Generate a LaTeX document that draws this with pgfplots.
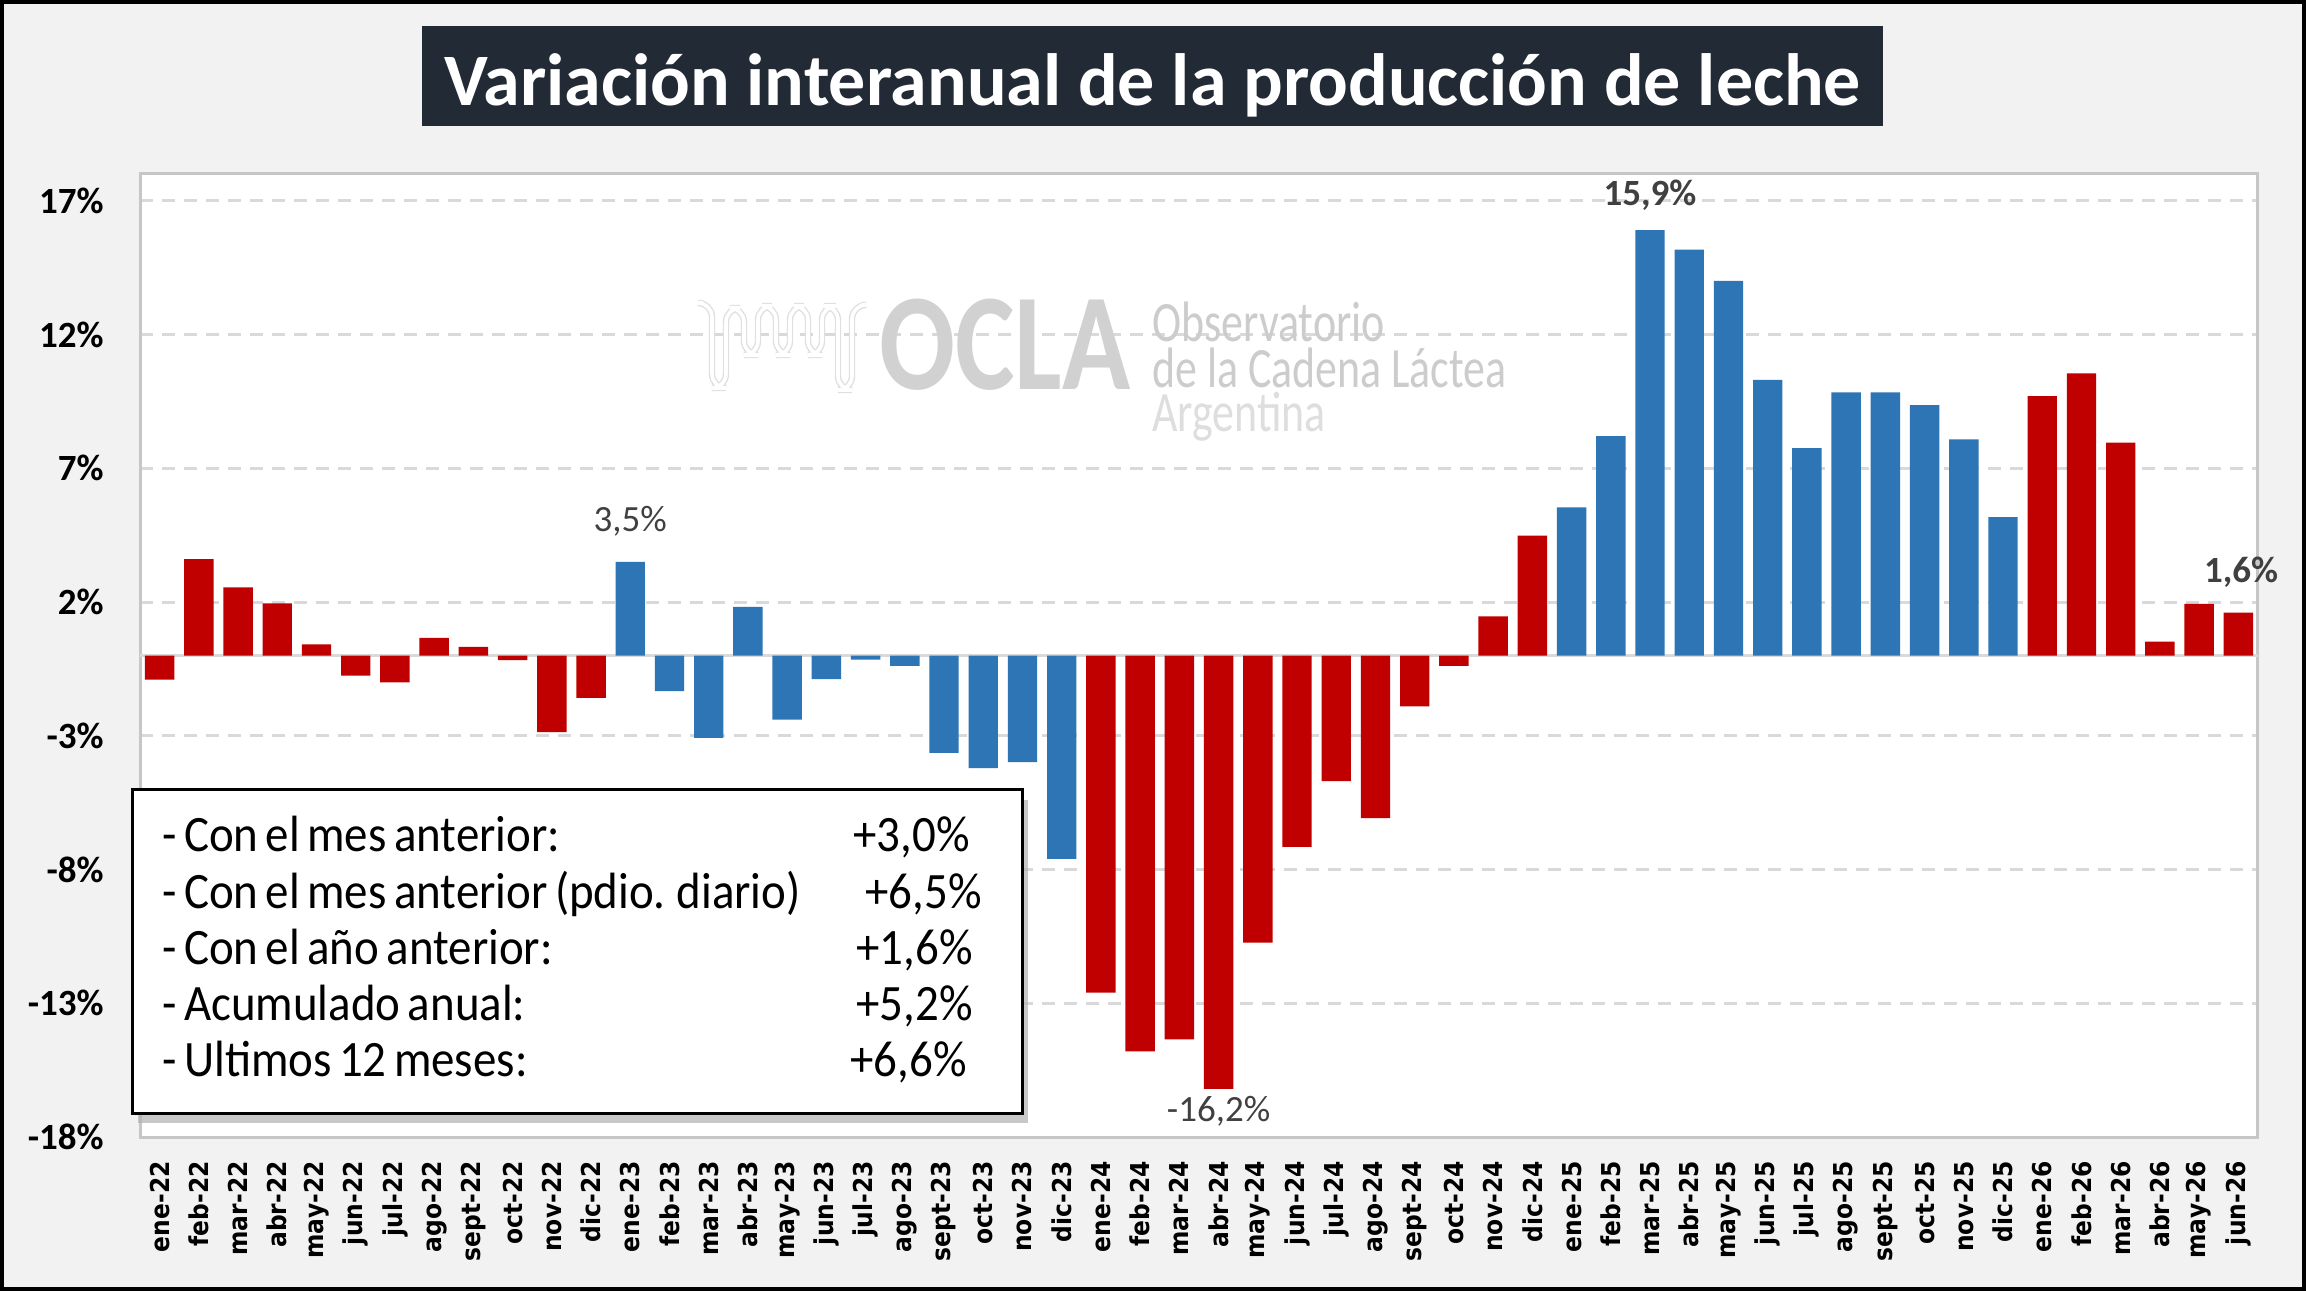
\documentclass[border=0pt]{standalone}
\usepackage{fontspec}
\setmainfont{Carlito}
\newfontfamily\dejavu[FakeStretch=0.9]{DejaVu Sans}
\newfontfamily\legfont[WordSpace=0.7, FakeStretch=0.92]{Carlito}
\newfontfamily\wmfont[FakeStretch=0.77]{Carlito}
\usepackage{pgfplots}
\usepackage{pgfplotstable}
\pgfplotsset{compat=1.18}
\usetikzlibrary{shadows}
\definecolor{barred}{HTML}{C00000}
\definecolor{barblue}{HTML}{2E75B6}
\definecolor{bggray}{HTML}{F2F2F2}
\definecolor{gridgray}{HTML}{D9D9D9}
\definecolor{axisgray}{HTML}{C6C6C6}
\definecolor{titlebg}{HTML}{222A35}
\definecolor{lblgray}{HTML}{404040}

\pgfplotstableread{
x y
0 -0.9
1 3.6
2 2.55
3 1.95
4 0.42
5 -0.75
6 -1.0
7 0.66
8 0.32
9 -0.17
10 -2.86
11 -1.58
24 -12.6
25 -14.8
26 -14.35
27 -16.2
28 -10.73
29 -7.15
30 -4.7
31 -6.08
32 -1.9
33 -0.39
34 1.46
35 4.48
48 9.7
49 10.55
50 7.96
51 0.52
52 1.93
53 1.6
}\redtable

\pgfplotstableread{
x y
12 3.5
13 -1.33
14 -3.08
15 1.82
16 -2.4
17 -0.88
18 -0.15
19 -0.39
20 -3.64
21 -4.21
22 -3.99
23 -7.6
36 5.54
37 8.2
38 15.9
39 15.17
40 14.0
41 10.3
42 7.75
43 9.84
44 9.84
45 9.36
46 8.08
47 5.17
}\bluetable

\begin{document}
\begin{tikzpicture}
% background and frame
\fill[bggray] (0,0) rectangle (1153pt,645.5pt);
\draw[black, line width=2pt] (1pt,1pt) rectangle (1152pt,644.5pt);

\begin{axis}[
  at={(70pt,77pt)}, anchor=south west,
  scale only axis, width=1059pt, height=481.5pt,
  xmin=-0.5, xmax=53.5, ymin=-18, ymax=18,
  ybar, bar width=14.7pt, bar shift=0pt,
  axis background/.style={fill=white},
  axis line style={draw=axisgray, line width=1.5pt},
  tick style={draw=none},
  major tick length=0pt,
  ytick={-18,-13,-8,-3,2,7,12,17},
  yticklabels={-18\%,-13\%,-8\%,-3\%,2\%,7\%,12\%,17\%},
  yticklabel style={font=\bfseries\fontsize{18.5}{20}\selectfont, anchor=east, inner sep=0pt},
  yticklabel shift=18pt,
  xtick={0,...,53},
  xticklabels={ene-22,feb-22,mar-22,abr-22,may-22,jun-22,jul-22,ago-22,sept-22,oct-22,nov-22,dic-22,
    ene-23,feb-23,mar-23,abr-23,may-23,jun-23,jul-23,ago-23,sept-23,oct-23,nov-23,dic-23,
    ene-24,feb-24,mar-24,abr-24,may-24,jun-24,jul-24,ago-24,sept-24,oct-24,nov-24,dic-24,
    ene-25,feb-25,mar-25,abr-25,may-25,jun-25,jul-25,ago-25,sept-25,oct-25,nov-25,dic-25,
    ene-26,feb-26,mar-26,abr-26,may-26,jun-26},
  xticklabel style={font=\dejavu\bfseries\fontsize{13}{14}\selectfont, rotate=90, anchor=east, inner sep=0pt},
  xticklabel shift=12pt,
  ymajorgrids,
  major grid style={color=gridgray, line width=1.5pt, dash pattern=on 6.5pt off 4.5pt},
  clip=false,
]
\draw[gridgray, line width=1.6pt] (axis cs:-0.5,0) -- (axis cs:53.5,0);
\addplot[fill=barred, draw=none] table[x=x,y=y] {\redtable};
\addplot[fill=barblue, draw=none] table[x=x,y=y] {\bluetable};
\node[font=\fontsize{18.5}{20}\selectfont, text=lblgray] at (axis cs:12,5.03) {3,5\%};
\node[font=\bfseries\fontsize{18.5}{20}\selectfont, text=lblgray] at (axis cs:38,17.22) {15,9\%};
\node[font=\fontsize{18.5}{20}\selectfont, text=lblgray] at (axis cs:27,-17.05) {-16,2\%};
\node[font=\bfseries\fontsize{18.5}{20}\selectfont, text=lblgray] at (axis cs:53.07,3.1) {1,6\%};
\end{axis}

\begin{scope}[x=0.5pt, y=-0.5pt, yshift=645.5pt]
% watermark logo
\draw[color=black!12, line width=3.2pt, rounded corners=7pt]
  (703,303) -- (712,303) -- (712,388) -- (726,388) -- (726,308) -- (744,308) -- (744,355) -- (758,355)
  -- (758,306) -- (776,306) -- (776,355) -- (790,355) -- (790,306) -- (808,306) -- (808,355)
  -- (822,355) -- (822,306) -- (838,306) -- (838,390) -- (852,390) -- (852,305) -- (861,305);
\draw[color=white, line width=1.8pt, rounded corners=7pt]
  (703,303) -- (712,303) -- (712,388) -- (726,388) -- (726,308) -- (744,308) -- (744,355) -- (758,355)
  -- (758,306) -- (776,306) -- (776,355) -- (790,355) -- (790,306) -- (808,306) -- (808,355)
  -- (822,355) -- (822,306) -- (838,306) -- (838,390) -- (852,390) -- (852,305) -- (861,305);
\node[anchor=base west, inner sep=0pt, xscale=0.815, text=black!18,
  font=\bfseries\fontsize{69}{70}\selectfont] at (879,390) {OCLA};
\node[anchor=base west, inner sep=0pt, text=black!20,
  font=\wmfont\fontsize{28.5}{30}\selectfont] at (1152,342) {Observatorio};
\node[anchor=base west, inner sep=0pt, text=black!20,
  font=\wmfont\fontsize{28.5}{30}\selectfont] at (1152,388) {de la Cadena Láctea};
\node[anchor=base west, inner sep=0pt, text=black!13,
  font=\wmfont\fontsize{28.5}{30}\selectfont] at (1152,432) {Argentina};

% summary box
\draw[fill=white, draw=black, line width=1.5pt,
  drop shadow={shadow xshift=3pt, shadow yshift=-5pt, fill=black!30, opacity=0.7}]
  (132,790) rectangle (1022,1113);
\begin{scope}[every node/.style={anchor=base west, inner sep=0pt, font=\legfont\fontsize{25.5}{27}\selectfont}]
\node at (162,852) {- Con el mes anterior:};
\node at (162,908) {- Con el mes anterior (pdio. diario)};
\node at (162,964) {- Con el año anterior:};
\node at (162,1020) {- Acumulado anual:};
\node at (162,1076) {- Ultimos 12 meses:};
\node at (853,852) {+3,0\%};
\node at (865,908) {+6,5\%};
\node at (856,964) {+1,6\%};
\node at (856,1020) {+5,2\%};
\node at (850,1076) {+6,6\%};
\end{scope}

% title
\fill[titlebg] (422,26) rectangle (1883,126);
\node[anchor=base, inner sep=0pt, text=white, font=\bfseries\fontsize{37}{40}\selectfont]
  at (1152.5,106) {Variación interanual de la producción de leche};
\end{scope}
\end{tikzpicture}
\end{document}
